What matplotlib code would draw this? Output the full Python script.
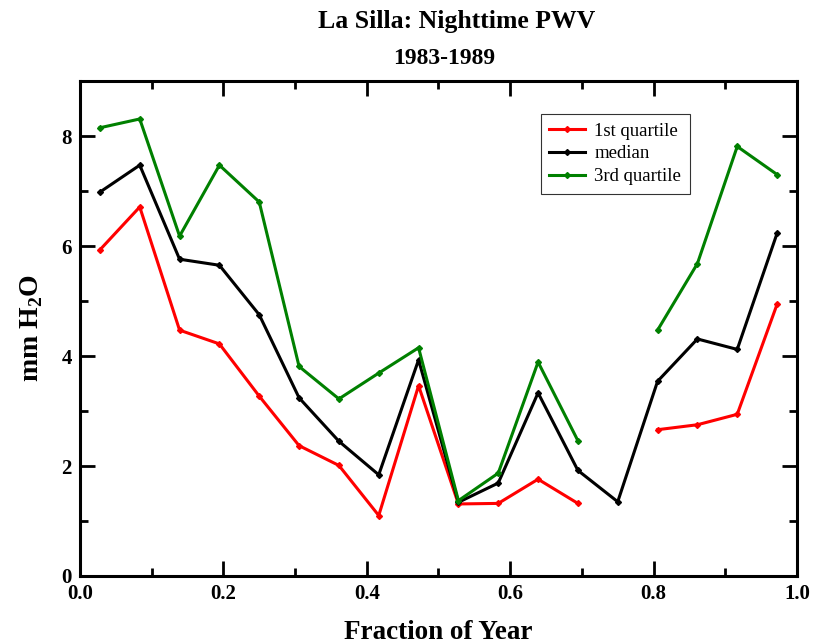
import numpy as np
import matplotlib
matplotlib.use('Agg')
import matplotlib.pyplot as plt
from matplotlib.ticker import MultipleLocator

plt.rcParams['font.family'] = ['Liberation Serif', 'DejaVu Serif']
plt.rcParams['font.weight'] = 'bold'
plt.rcParams['mathtext.fontset'] = 'custom'
plt.rcParams['mathtext.rm'] = 'Liberation Serif:bold'
plt.rcParams['mathtext.bf'] = 'Liberation Serif:bold'

# 18 bins per year, plotted at bin centres
frac = (2 * np.arange(18) + 1) / 36.0
nan = np.nan

q1 = [5.93, 6.71, 4.47, 4.22, 3.27, 2.37, 2.01, 1.10, 3.46,
      1.31, 1.32, 1.76, 1.32, nan, 2.66, 2.75, 2.94, 4.94]
median = [6.98, 7.47, 5.76, 5.65, 4.75, 3.24, 2.45, 1.84, 3.93,
          1.34, 1.69, 3.33, 1.92, 1.35, 3.54, 4.31, 4.12, 6.23]
q3 = [8.15, 8.31, 6.18, 7.47, 6.80, 3.81, 3.22, 3.69, 4.15,
      1.37, 1.87, 3.89, 2.46, nan, 4.47, 5.68, 7.81, 7.30]

series = [
    (q1, 'red', '1st quartile'),
    (median, 'black', 'median'),
    (q3, 'green', '3rd quartile'),
]

fig = plt.figure(figsize=(8.18, 6.43), dpi=100)
ax = fig.add_axes([0.0978, 0.1042, 0.8765, 0.7698])

for vals, col, lab in series:
    ax.plot(frac, vals, color=col, lw=2.2, marker='D', ms=3, label=lab)

ax.set_xlim(0, 1)
ax.set_ylim(0, 9)
ax.xaxis.set_major_locator(MultipleLocator(0.2))
ax.xaxis.set_minor_locator(MultipleLocator(0.1))
ax.yaxis.set_major_locator(MultipleLocator(2))
ax.yaxis.set_minor_locator(MultipleLocator(1))
ax.xaxis.set_major_formatter(plt.FuncFormatter(lambda v, p: f'{v:.1f}'))

ax.tick_params(which='both', direction='in', top=True, right=True, width=2)
ax.tick_params(which='major', length=11, labelsize=15, pad=6)
ax.tick_params(which='minor', length=6)
for s in ax.spines.values():
    s.set_linewidth(2.2)

ax.set_xlabel('Fraction of Year', fontsize=19.5, fontweight='bold', labelpad=11)
ax.set_ylabel(r'mm H$_\mathbf{2}$O', fontsize=20, fontweight='bold', labelpad=12)

fig.text(0.558, 0.966, 'La Silla: Nighttime PWV', ha='center', va='center',
         fontsize=18.5, fontweight='bold')
fig.text(0.543, 0.909, '1983-1989', ha='center', va='center',
         fontsize=17, fontweight='bold')

leg = ax.legend(loc='upper left', bbox_to_anchor=(0.643, 0.933),
                frameon=True, fancybox=False, handlelength=1.9, handletextpad=0.5,
                borderpad=0.45, labelspacing=0.3, borderaxespad=0,
                prop={'weight': 'normal', 'size': 13.5})
leg.get_frame().set_edgecolor('black')
leg.get_frame().set_linewidth(0.8)

fig.savefig('out.png', dpi=100)
